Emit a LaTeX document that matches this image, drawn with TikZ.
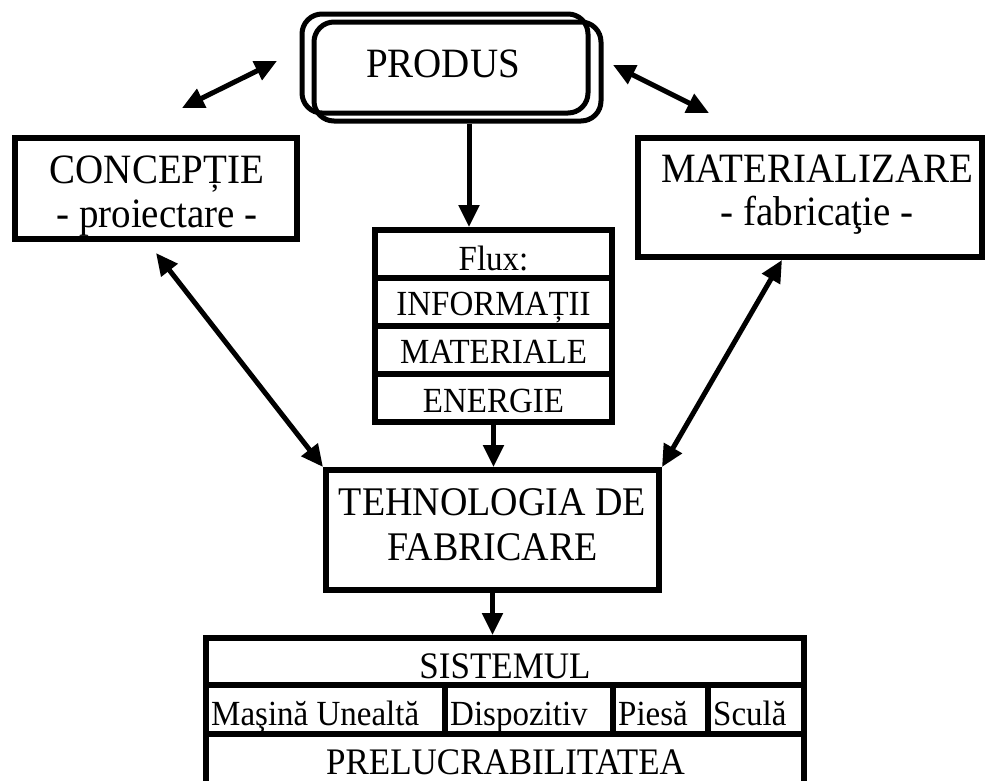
\documentclass[tikz,border=0pt]{standalone}
\usepackage{fontspec}
\setmainfont{Liberation Serif}
\usetikzlibrary{arrows.meta}
\begin{document}
\begin{tikzpicture}[x=1pt,y=-1pt,
  frame/.style 2 args={draw, line width=6pt, inner sep=0pt, minimum width=#1, minimum height=#2},
  rframe/.style 2 args={draw, line width=5pt, rounded corners=20pt, inner sep=0pt, minimum width=#1, minimum height=#2},
  lbl/.style={inner sep=0pt, anchor=base, yscale=1.07},
  lblw/.style={inner sep=0pt, anchor=base west, yscale=1.07},
  big/.style={font=\fontsize{39}{44}\selectfont},
  mid/.style={font=\fontsize{38}{44}\selectfont},
  med/.style={font=\fontsize{35}{40}\selectfont},
  sml/.style={font=\fontsize{33}{38}\selectfont},
  divline/.style={line width=6pt},
  arr/.style={line width=5pt, -{Triangle[length=22pt,width=20pt]}},
  darr/.style={line width=5pt, {Triangle[length=22pt,width=20pt]}-{Triangle[length=22pt,width=20pt]}}
]
\clip (0,0) rectangle (988,780);
\fill[white] (0,0) rectangle (988,780);

% PRODUS
\node[rframe={286pt}{99pt}] (prodback) at (445,63.5) {};
\node[rframe={287pt}{99pt}] (prod) at (457.5,71.5) {};
\node[lbl, big] (prodT) at (443,77) {PRODUS};

% CONCEPTIE
\node[frame={282pt}{101pt}] (conc) at (156,188.5) {};
\node[lbl, big] (concT1) at (157,183) {CONCEPȚIE};
\node[lbl, big] (concT2) at (157,227) {- proiectare -};

% MATERIALIZARE
\node[frame={344pt}{119pt}] (mat) at (810,197.5) {};
\node[lbl, big] (matT1) at (817,182) {MATERIALIZARE};
\node[lbl, big] (matT2) at (817,225) {- fabricaţie -};

% Flux table
\node[frame={237pt}{192pt}] (flux) at (493.5,326) {};
\draw[divline] (375,278) -- (612,278);
\draw[divline] (375,326) -- (612,326);
\draw[divline] (375,374) -- (612,374);
\node[lbl, sml] (fluxT) at (493.5,270) {Flux:};
\node[lbl, sml] (infoT) at (493.5,315) {INFORMAȚII};
\node[lbl, sml] (materT) at (493.5,363) {MATERIALE};
\node[lbl, sml] (enerT) at (493.5,412) {ENERGIE};

% TEHNOLOGIA
\node[frame={333pt}{120pt}] (tehno) at (492.5,530) {};
\node[lbl, mid] (tehT1) at (492.5,515) {TEHNOLOGIA DE};
\node[lbl, mid] (tehT2) at (492.5,560) {FABRICARE};

% SISTEMUL table
\node[frame={598pt}{182pt}] (sist) at (505,729) {};
\draw[divline] (206,685) -- (804,685);
\draw[divline] (206,734) -- (804,734);
\draw[divline] (445,685) -- (445,734);
\draw[divline] (613,685) -- (613,734);
\draw[divline] (708,685) -- (708,734);
\node[lbl, med] (sistT) at (505,678) {SISTEMUL};
\node[lblw, sml] (masT) at (211,725) {Maşină Unealtă};
\node[lblw, sml] (dispT) at (450,725) {Dispozitiv};
\node[lblw, sml] (piesT) at (618,725) {Piesă};
\node[lblw, sml] (sculT) at (713,725) {Sculă};
\node[lbl, med] (prelT) at (505.5,774) {PRELUCRABILITATEA};

% connectors
\coordinate (pl1) at (277,61);
\coordinate (pl2) at (182,108);
\coordinate (pr1) at (613,65);
\coordinate (pr2) at (709,113);
\coordinate (fx) at (469,0);
\draw[darr] (pl2) -- (pl1);
\draw[darr] (pr1) -- (pr2);
\draw[arr] (prod.south -| fx) -- (flux.north -| fx);
\draw[arr] (flux.south) -- (flux.south |- tehno.north);
\draw[arr] (tehno.south) -- (tehno.south |- sist.north);
\draw[darr] ([yshift=-11pt]conc.south) -- (tehno.north west);
\draw[darr] ([xshift=-28pt]mat.south) -- (tehno.north east);
\end{tikzpicture}
\end{document}
